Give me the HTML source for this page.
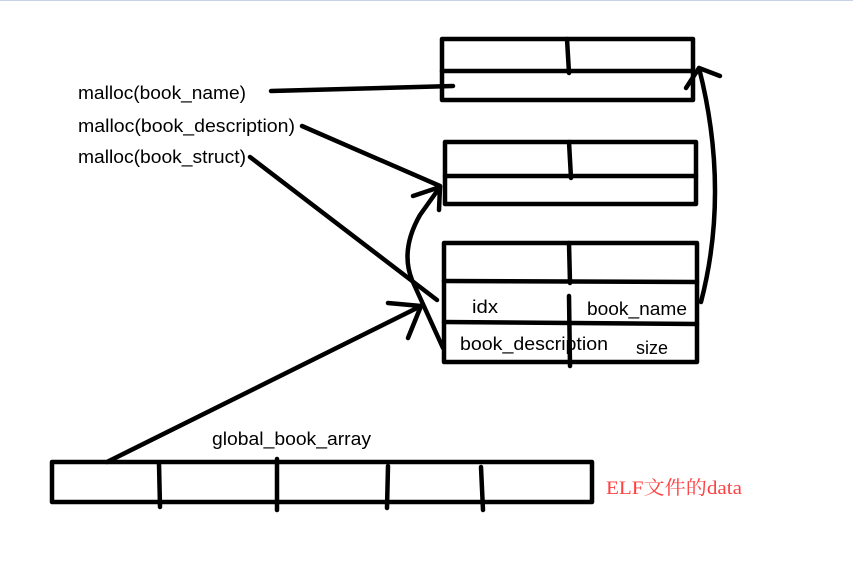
<!DOCTYPE html>
<html><head><meta charset="utf-8"><style>
html,body{margin:0;padding:0;background:#fff;}
svg{display:block;}
text{font-family:"Liberation Sans","Noto Sans CJK SC",sans-serif;font-size:18px;fill:#000;}
</style></head><body>
<svg width="853" height="566" viewBox="0 0 853 566" xmlns="http://www.w3.org/2000/svg">
<line x1="0" y1="0.5" x2="853" y2="0.5" stroke="#c8d4e6" stroke-width="1"/>
<g fill="none" stroke="#000" stroke-width="4.5" stroke-linecap="round" stroke-linejoin="round">
<rect x="442" y="39" width="251" height="61"/>
<line x1="442" y1="71" x2="693" y2="71"/>
<line x1="567" y1="39" x2="569" y2="73"/>
<rect x="445" y="142" width="251" height="62"/>
<line x1="445" y1="176" x2="696" y2="176"/>
<line x1="569" y1="142" x2="571" y2="178"/>
<rect x="444" y="243" width="253" height="119"/>
<line x1="444" y1="281" x2="697" y2="282"/>
<line x1="444" y1="322" x2="697" y2="324"/>
<line x1="569" y1="243" x2="570" y2="283"/>
<line x1="569" y1="296" x2="570" y2="366"/>
<rect x="52" y="462" width="540" height="40"/>
<line x1="159" y1="464" x2="160" y2="507"/>
<line x1="277" y1="459" x2="277" y2="510"/>
<line x1="388" y1="466" x2="387" y2="508"/>
<line x1="481" y1="467" x2="483" y2="510"/>
<line x1="271" y1="91" x2="453" y2="86"/>
<line x1="302" y1="126" x2="440" y2="186"/>
<polyline points="413,196 440,187 439,210"/>
<line x1="250" y1="157" x2="437" y2="300"/>
<path d="M443,348 L412,280 Q400,250 420,215 L440,187"/>
<line x1="107" y1="462" x2="421" y2="306"/>
<polyline points="388,303 421,306 408,338"/>
<path d="M701,302 Q730,190 699,68"/>
<polyline points="720,76 699,68 686,88"/>
</g>
<text x="78" y="99" textLength="168" lengthAdjust="spacingAndGlyphs">malloc(book_name)</text>
<text x="78" y="132" textLength="217" lengthAdjust="spacingAndGlyphs">malloc(book_description)</text>
<text x="78" y="163" textLength="168" lengthAdjust="spacingAndGlyphs">malloc(book_struct)</text>
<text x="472" y="313" textLength="26" lengthAdjust="spacingAndGlyphs">idx</text>
<text x="587" y="315" textLength="100" lengthAdjust="spacingAndGlyphs">book_name</text>
<text x="460" y="350" textLength="148" lengthAdjust="spacingAndGlyphs">book_description</text>
<text x="636" y="354" textLength="32" lengthAdjust="spacingAndGlyphs">size</text>
<text x="212" y="445" textLength="159" lengthAdjust="spacingAndGlyphs">global_book_array</text>
<text x="606" y="494" textLength="136" lengthAdjust="spacingAndGlyphs" style="fill:#ff4040;font-family:'Liberation Serif','Noto Serif CJK SC',serif;font-size:19px">ELF文件的data</text>
</svg>
</body></html>
